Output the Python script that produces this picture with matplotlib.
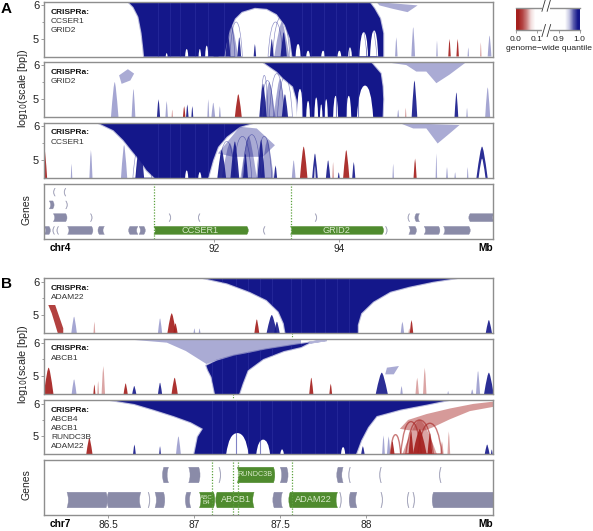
import matplotlib
matplotlib.use("Agg")
import matplotlib.pyplot as plt
import numpy as np
from matplotlib.patches import PathPatch
from matplotlib.path import Path

plt.rcParams["font.family"] = ["Liberation Sans", "DejaVu Sans"]

NAVY = "#14178a"
RED = "#a5201e"
GREY = "#8a8ba8"
GREEN = "#4f8b2e"
FRAME = "#8e8e8e"

W, H = 593, 531

# outlines of the solid blue regions, x in Mb, y in log10 scale
a1_solid_x = [90.63, 90.71, 90.79, 90.84, 90.87, 90.88, 92.16, 92.2, 92.25, 92.33, 92.44, 92.65, 92.84, 93.0, 93.13, 93.21, 93.25, 94.70, 94.70, 94.65, 94.56, 94.48]
a1_solid_y = [6.09, 5.94, 5.65, 5.17, 4.68, 4.48, 4.48, 4.87, 5.26, 5.6, 5.8, 5.92, 5.89, 5.73, 5.41, 5.02, 4.48, 4.48, 5.17, 5.6, 5.89, 6.09]
a2_solid_x = [92.78, 93.0, 93.1, 93.26, 93.32, 93.34, 94.69, 94.70, 94.69, 94.66, 94.59, 94.5]
a2_solid_y = [6.09, 5.81, 5.62, 5.37, 4.98, 4.48, 4.48, 5.0, 5.37, 5.75, 5.9, 6.09]
a3_solid_x = [90.15, 90.39, 90.55, 90.68, 90.81, 90.92, 91.05, 91.9, 91.98, 92.06, 92.2, 92.41, 92.62]
a3_solid_y = [6.09, 5.88, 5.59, 5.29, 5.0, 4.71, 4.48, 4.48, 5.0, 5.39, 5.69, 5.98, 6.09]
b1_solid_x = [87.05, 87.19, 87.32, 87.42, 87.49, 87.52, 87.53, 87.95, 87.95, 87.97, 88.04, 88.14, 88.25, 88.39, 88.53]
b1_solid_y = [6.11, 5.95, 5.7, 5.45, 5.1, 4.75, 4.46, 4.46, 4.7, 5.05, 5.4, 5.7, 5.85, 6.0, 6.11]
b2_solid_x = [87.07, 87.13, 87.23, 87.42, 87.58, 87.77, 87.67, 87.62, 87.52, 87.4, 87.31, 87.28, 87.26, 87.12, 87.1, 87.08]
b2_solid_y = [5.31, 5.46, 5.61, 5.8, 5.93, 6.08, 6.0, 5.87, 5.75, 5.51, 5.17, 4.77, 4.46, 4.46, 4.97, 5.17]
b3_solid_x = [86.51, 86.65, 86.76, 86.88, 86.98, 87.05, 87.02, 87.0, 87.94, 87.97, 88.01, 88.06, 88.2, 88.35, 88.48]
b3_solid_y = [6.11, 5.99, 5.82, 5.62, 5.43, 5.23, 4.98, 4.46, 4.46, 4.88, 5.28, 5.62, 5.82, 5.97, 6.11]

# faint vertical bands inside the solid regions
a_bands = [91.1, 91.3, 91.45, 91.7, 91.9, 92.15, 93.4, 93.55, 93.75, 93.95, 94.1, 94.3]
b_bands = [87.1, 87.16, 87.24, 87.31, 87.38, 87.45, 87.56, 87.62, 87.7, 87.76, 87.83, 87.9]

# paler speckled regions
a1_haze_x = [94.59, 95.25, 95.09, 94.85, 94.64]
a1_haze_y = [6.09, 5.99, 5.79, 5.89, 5.99]
a2_haze_x = [94.72, 96.03, 95.76, 95.55, 95.39, 95.23, 95.07]
a2_haze_y = [6.09, 6.09, 5.72, 5.47, 5.81, 5.81, 6.0]
a2_cloud_x = [90.48, 90.62, 90.72, 90.66, 90.52]
a2_cloud_y = [5.7, 5.88, 5.75, 5.55, 5.45]
a3_haze_x = [92.41, 92.68, 92.97, 92.78, 92.3, 92.06]
a3_haze_y = [5.98, 5.93, 5.44, 5.1, 5.1, 5.2]
a3_haze2_x = [94.96, 95.92, 95.76, 95.57, 95.39, 95.18]
a3_haze2_y = [6.09, 6.03, 5.78, 5.49, 5.93, 5.93]
b2_haze_x = [86.63, 86.84, 86.95, 87.07, 87.13, 87.32, 87.62, 87.62]
b2_haze_y = [6.09, 6.0, 5.75, 5.36, 5.48, 5.71, 5.9, 6.09]

# spikes: (centre Mb, half width Mb, top log10 scale)
a1_white = [(91.24, 0.015, 4.58), (91.56, 0.025, 4.7), (91.77, 0.02, 4.7), (91.88, 0.025, 4.8),
            (93.34, 0.04, 4.85), (93.5, 0.03, 4.65), (93.74, 0.03, 4.65), (94.0, 0.03, 4.65),
            (94.17, 0.03, 4.75), (94.39, 0.07, 5.2), (94.555, 0.065, 5.25)]
a1_ribs = [(92.25, 0.08, 5.45), (92.35, 0.1, 5.5), (92.98, 0.12, 5.5), (93.07, 0.14, 5.65),
           (94.3, 0.14, 5.55), (94.45, 0.15, 5.6), (94.56, 0.13, 5.5)]
a1_blue = [(92.03, 0.04, 4.9), (92.4, 0.03, 5.05), (92.65, 0.02, 4.85), (92.92, 0.03, 5.0),
           (93.11, 0.05, 5.2), (92.22, 0.04, 5.15), (94.47, 0.015, 5.4)]
a1_pale = [(92.28, 0.1, 5.4), (93.08, 0.12, 5.5), (94.91, 0.02, 5.05), (95.18, 0.03, 5.35),
           (95.56, 0.012, 4.95), (96.06, 0.012, 4.75), (96.40, 0.03, 5.1)]
a1_red = [(95.76, 0.02, 5.0), (95.89, 0.02, 5.0)]
a1_pink = [(96.26, 0.012, 4.9)]

a2_white = [(93.37, 0.05, 5.3), (93.5, 0.03, 4.95), (93.63, 0.03, 5.05), (93.71, 0.02, 4.85),
            (93.79, 0.025, 5.0), (93.94, 0.04, 5.1), (94.15, 0.04, 5.1), (94.41, 0.13, 5.4), (92.98, 0.04, 5.0)]
a2_ribs = [(92.85, 0.1, 5.55), (93.0, 0.12, 5.75), (93.13, 0.12, 5.65), (92.8, 0.06, 5.7)]
a2_blue = [(91.11, 0.025, 5.0), (91.57, 0.02, 4.85), (91.65, 0.015, 4.8),
           (93.13, 0.05, 5.15), (92.78, 0.06, 5.45), (95.2, 0.045, 5.55), (95.87, 0.03, 5.2)]
a2_pale = [(90.41, 0.06, 5.5), (90.71, 0.03, 5.3), (91.24, 0.02, 4.95), (91.905, 0.015, 5.0), (92.88, 0.1, 5.5),
           (93.05, 0.1, 5.6), (91.985, 0.03, 4.9), (92.09, 0.015, 4.8), (94.94, 0.015, 4.7), (96.04, 0.012, 4.75), (96.37, 0.04, 5.35)]
a2_red = [(92.385, 0.055, 5.15), (91.52, 0.02, 4.8)]
a2_pink = [(91.33, 0.012, 4.7), (95.06, 0.012, 4.75)]

a3_white = [(91.56, 0.025, 4.7), (91.77, 0.025, 4.65)]
a3_ribs = [(92.2, 0.13, 5.55), (92.45, 0.15, 5.7), (92.6, 0.15, 5.75), (92.8, 0.12, 5.7), (90.85, 0.15, 5.6), (90.95, 0.2, 5.75)]
a3_blue = [(90.81, 0.07, 5.55), (92.12, 0.07, 5.3), (92.33, 0.07, 5.55), (92.5, 0.04, 5.2), (92.75, 0.06, 5.6),
           (92.98, 0.025, 4.85), (93.61, 0.045, 5.2), (93.82, 0.035, 5.0), (93.99, 0.015, 4.65),
           (94.23, 0.025, 4.95), (96.28, 0.09, 5.4)]
a3_hollow = [(96.28, 0.055, 5.05), (93.61, 0.012, 4.85)]
a3_pale = [(92.25, 0.13, 5.5), (92.55, 0.13, 5.7), (92.85, 0.1, 5.6), (90.56, 0.05, 5.45), (90.03, 0.025, 5.3), (89.72, 0.012, 4.9), (93.27, 0.03, 5.0),
           (94.86, 0.012, 4.9), (95.55, 0.012, 5.2), (95.72, 0.015, 4.8), (95.85, 0.012, 4.65), (96.05, 0.012, 4.8)]
a3_red = [(89.29, 0.04, 5.3), (93.43, 0.06, 5.4), (94.11, 0.05, 5.3), (95.21, 0.025, 5.05)]
a3_pink = [(93.9, 0.015, 4.95)]

b1_blue = [(87.45, 0.03, 5.0), (87.48, 0.016, 4.8), (88.713, 0.018, 4.85)]
b1_pale = [(86.3, 0.016, 4.95), (86.8, 0.012, 4.9), (88.21, 0.01, 4.8), (87.0, 0.005, 4.6), (87.03, 0.005, 4.6)]
b1_red = [(86.868, 0.025, 5.05), (86.89, 0.012, 4.75), (87.363, 0.014, 4.87), (88.263, 0.01, 4.85)]
b1_pink = [(86.418, 0.005, 4.8), (88.25, 0.005, 4.6)]
b1_red_band_x = [86.15, 86.19, 86.237, 86.237, 86.205, 86.17]
b1_red_band_y = [5.3, 5.3, 4.6, 4.46, 4.46, 5.05]

b2_blue = [(86.65, 0.012, 4.7), (86.8, 0.012, 4.8), (88.09, 0.035, 5.1), (88.713, 0.028, 5.1)]
b2_pale = [(86.17, 0.005, 4.65), (86.3, 0.014, 4.9), (88.205, 0.007, 4.7), (88.476, 0.004, 4.55), (88.616, 0.007, 4.6), (88.65, 0.012, 5.15)]
b2_red = [(86.152, 0.028, 5.25), (86.418, 0.006, 4.75), (86.6, 0.012, 4.78), (86.885, 0.018, 4.95), (87.68, 0.012, 4.95), (87.793, 0.008, 4.77)]
b2_pink = [(88.296, 0.01, 4.95), (88.34, 0.01, 5.25), (86.47, 0.01, 5.3), (86.44, 0.005, 4.85)]
b2_cloud_x = [88.12, 88.19, 88.16, 88.11]
b2_cloud_y = [5.25, 5.3, 5.05, 5.05]

b3_white = [(87.25, 0.065, 5.1), (87.4, 0.04, 4.9), (87.51, 0.01, 4.6), (87.865, 0.012, 4.67)]
b3_blue = [(86.651, 0.008, 4.75), (86.8, 0.005, 4.7), (87.98, 0.01, 4.7), (88.703, 0.014, 4.75), (88.73, 0.005, 4.6)]
b3_pale = [(86.907, 0.014, 5.0), (87.03, 0.01, 4.7), (88.1, 0.008, 5.03), (88.13, 0.01, 5.0)]
b3_red = [(86.389, 0.018, 4.95), (88.311, 0.04, 5.22), (88.26, 0.014, 5.2), (88.37, 0.014, 5.1), (88.152, 0.012, 4.85)]
b3_red_ribs = [(88.31, 0.08, 5.5), (88.26, 0.06, 5.45), (88.37, 0.07, 5.4), (88.17, 0.03, 5.05)]
b3_pink = [(88.31, 0.1, 5.5), (88.44, 0.01, 4.85), (88.48, 0.008, 5.15)]
b3_cloud_x = [88.195, 88.243, 88.35, 88.486, 88.622, 88.738, 88.738, 88.602, 88.486, 88.389, 88.34, 88.253]
b3_cloud_y = [5.23, 5.5, 5.68, 5.85, 5.99, 6.06, 5.9, 5.77, 5.52, 5.28, 5.18, 5.18]

# genes: (start Mb, end Mb, row, strand)
a_genes = [(89.456, 89.456, 4, -1), (89.626, 89.626, 4, -1),
           (89.365, 89.42, 3, 1), (89.63, 89.63, 3, 1),
           (89.43, 89.626, 2, 1), (90.025, 90.025, 2, 1), (91.282, 91.282, 2, 1), (91.77, 91.77, 2, -1),
           (93.615, 93.615, 2, 1), (95.12, 95.12, 2, -1), (95.228, 95.28, 2, -1), (96.09, 96.47, 2, -1),
           (89.285, 89.36, 1, 1), (89.445, 89.445, 1, -1), (89.51, 89.51, 1, -1), (89.658, 90.04, 1, 1),
           (90.164, 90.244, 1, -1), (90.654, 90.78, 1, -1), (90.80, 90.877, 1, 1), (92.81, 92.81, 1, -1),
           (94.74, 94.74, 1, 1), (95.11, 95.21, 1, 1), (95.356, 95.585, 1, 1), (95.665, 96.07, 1, 1)]
a_green = [(91.037, 92.523, 1, 1, "CCSER1"), (93.22, 94.685, 1, 1, "GRID2")]
b_genes = [(86.822, 86.849, 2, -1), (86.967, 87.025, 2, 1), (87.144, 87.144, 2, 1), (87.50, 87.537, 2, 1),
           (87.836, 87.865, 2, -1), (87.906, 87.906, 2, -1), (88.086, 88.086, 2, -1), (88.434, 88.434, 2, -1),
           (86.259, 86.486, 1, 1), (86.5, 86.688, 1, -1), (86.732, 86.732, 1, 1), (86.771, 86.82, 1, 1),
           (86.955, 86.979, 1, -1), (87.464, 87.512, 1, -1), (87.846, 87.846, 1, 1), (87.908, 87.945, 1, -1),
           (88.086, 88.086, 1, 1), (88.247, 88.247, 1, -1), (88.272, 88.272, 1, 1), (88.391, 88.75, 1, -1)]
b_green = [(87.03, 87.111, 1, 1, "ABC\nB4"), (87.132, 87.347, 1, -1, "ABCB1"),
           (87.25, 87.46, 2, 1, "RUNDC3B"), (87.557, 87.832, 1, -1, "ADAM22")]

a_marks = [91.04, 93.22]
b_marks = [87.103, 87.227, 87.256, 87.567]

a_xlim = (89.28, 96.455)
b_xlim = (86.125, 88.737)
a_ylim = (4.48, 6.09)
b_ylim = (4.46, 6.11)

quant_ticks = [0, 1, 2.06, 3.06]
quant_labels = ["0.0", "0.1", "0.9", "1.0"]
quant_ramp = [0, 0.08, 0.22, 0.42, 0.5, 0.5, 0.5, 0.5, 0.5, 0.5, 0.5, 0.5, 0.62, 0.85, 1]


def axes_px(left, top, right, bottom):
    return fig.add_axes([left / W, 1 - bottom / H, (right - left) / W, (bottom - top) / H])


def frame(ax):
    for s in ax.spines.values():
        s.set_color(FRAME)
        s.set_linewidth(1.0)


def spike_path(ax, c, hw, top, k):
    base = ax.get_ylim()[0]
    verts = [(c - hw, base), (c - hw * k, top), (c, top), (c + hw * k, top), (c + hw, base), (c - hw, base)]
    codes = [Path.MOVETO, Path.CURVE3, Path.CURVE3, Path.CURVE3, Path.CURVE3, Path.CLOSEPOLY]
    return Path(verts, codes)


def spikes(ax, items, color, alpha=1.0, k=0.28):
    for c, hw, top in items:
        ax.add_patch(PathPatch(spike_path(ax, c, hw, top, k), fc=color, ec="none", alpha=alpha))


def ribs(ax, items, color, lw=0.45, alpha=0.5):
    for c, hw, top in items:
        ax.add_patch(PathPatch(spike_path(ax, c, hw, top, 0.7), fc="none", ec=color, lw=lw, alpha=alpha))


def scale_panel(top, bottom, xlim, ylim, lines, solid=None, bands=(), haze=(), white=(), arcs=(), blue=(), pale=(), red=(), pink=()):
    ax = axes_px(44, top, 493, bottom)
    ax.set_xlim(*xlim)
    ax.set_ylim(*ylim)
    frame(ax)
    for hx, hy in haze:
        ax.fill(hx, hy, color=NAVY, alpha=0.36, lw=0)
    if solid:
        # a soft rim, then the solid colour
        ax.fill(solid[0], solid[1], fc=NAVY, ec=NAVY, lw=1.6, alpha=0.3)
        body = ax.fill(solid[0], solid[1], color=NAVY, lw=0)[0]
        ax.vlines(bands, ylim[0], ylim[1], color="#2c30a0", lw=0.8, alpha=0.6).set_clip_path(body)
    spikes(ax, white, "white", k=0.75)
    ribs(ax, arcs, NAVY)
    spikes(ax, pale, NAVY, alpha=0.38)
    spikes(ax, blue, NAVY, alpha=0.9)
    spikes(ax, pink, RED, alpha=0.4)
    spikes(ax, red, RED, alpha=0.92)
    ax.set_xticks([])
    ax.set_yticks([5, 6])
    ax.set_yticks([5.5], minor=True)
    ax.tick_params(axis="y", which="both", length=2, width=0.6, color=FRAME, pad=1.5, labelsize=8, labelcolor="#222222")
    ax.tick_params(axis="y", which="minor", length=1.5)
    for i, name in enumerate(lines):
        ax.text(7 / 449, 1 - (10 + i * 9.2) / (bottom - top), name, transform=ax.transAxes, fontsize=6,
                fontweight="bold" if i == 0 else "normal", color="#111111" if i == 0 else "#333333", va="center", zorder=6)
    return ax


def gene(ax, start, end, row, strand, color, bend, height):
    thin = start == end
    if thin:
        start -= bend * 0.2
        end += bend * 0.2
    b = bend * 2 * strand
    lo, hi = row - height / 2, row + height / 2
    verts = [(start, lo), (start + b, row), (start, hi), (end, hi), (end + b, row), (end, lo), (start, lo)]
    codes = [Path.MOVETO, Path.CURVE3, Path.CURVE3, Path.LINETO, Path.CURVE3, Path.CURVE3, Path.CLOSEPOLY]
    ax.add_patch(PathPatch(Path(verts, codes), fc=color, ec=color, lw=0.3, alpha=0.7 if thin else 1))


def gene_panel(top, bottom, xlim, ylim, genes, green, marks, bend, height, ticks, ticklabels, chrom):
    ax = axes_px(44, top, 493, bottom)
    ax.set_xlim(*xlim)
    ax.set_ylim(*ylim)
    frame(ax)
    for g in genes:
        gene(ax, g[0], g[1], g[2], g[3], GREY, bend, height)
    for g in green:
        gene(ax, g[0], g[1], g[2], g[3], GREEN, bend, height)
        size = 4.5 if "\n" in g[4] else (5.2 if g[4] == "RUNDC3B" else 6.6)
        ax.text((g[0] + g[1]) / 2, g[2], g[4], color="#d7e8c8", fontsize=size, ha="center", va="center", linespacing=1.0, zorder=6)
    for m in marks:
        ax.axvline(m, color="#5aa03c", lw=0.9, ls=(0, (1, 1.3)), zorder=5)
    ax.set_yticks([])
    ax.set_xticks(ticks)
    ax.set_xticklabels(ticklabels)
    ax.tick_params(axis="x", length=2, width=0.6, color=FRAME, pad=1.5, labelsize=7.3, labelcolor="#222222")
    ax.text(0.012, -0.155, chrom, transform=ax.transAxes, fontsize=7.3, fontweight="bold", va="center")
    ax.text(1.0, -0.155, "Mb", transform=ax.transAxes, fontsize=7.3, fontweight="bold", va="center", ha="right")
    return ax


fig = plt.figure(figsize=(W / 100, H / 100), dpi=100)

scale_panel(2, 56.5, a_xlim, a_ylim, ["CRISPRa:", "CCSER1", "GRID2"], (a1_solid_x, a1_solid_y), a_bands,
            [(a1_haze_x, a1_haze_y)], a1_white, a1_ribs, a1_blue, a1_pale, a1_red, a1_pink)
scale_panel(62, 117, a_xlim, a_ylim, ["CRISPRa:", "GRID2"], (a2_solid_x, a2_solid_y), a_bands,
            [(a2_haze_x, a2_haze_y), (a2_cloud_x, a2_cloud_y)], a2_white, a2_ribs, a2_blue, a2_pale, a2_red, a2_pink)
ax_a3 = scale_panel(123, 178, a_xlim, a_ylim, ["CRISPRa:", "CCSER1"], (a3_solid_x, a3_solid_y), a_bands,
                    [(a3_haze_x, a3_haze_y), (a3_haze2_x, a3_haze2_y)], a3_white, a3_ribs, a3_blue, a3_pale, a3_red, a3_pink)
spikes(ax_a3, a3_hollow, "white")
gene_panel(184, 239, a_xlim, (0.325, 4.64), a_genes, a_green, a_marks, 0.022, 0.62, [92, 94], ["92", "94"], "chr4")

ax_b1 = scale_panel(278, 333, b_xlim, b_ylim, ["CRISPRa:", "ADAM22"], (b1_solid_x, b1_solid_y), b_bands,
                    (), (), (), b1_blue, b1_pale, b1_red, b1_pink)
ax_b1.fill(b1_red_band_x, b1_red_band_y, color=RED, alpha=0.85, lw=0)
ax_b2 = scale_panel(339, 394, b_xlim, b_ylim, ["CRISPRa:", "ABCB1"], (b2_solid_x, b2_solid_y), b_bands,
                    [(b2_haze_x, b2_haze_y), (b2_cloud_x, b2_cloud_y)], (), (), b2_blue, b2_pale, b2_red, b2_pink)
ax_b3 = scale_panel(400, 454, b_xlim, b_ylim, ["CRISPRa:", "ABCB4", "ABCB1", "RUNDC3B", "ADAM22"], (b3_solid_x, b3_solid_y), b_bands,
                    (), b3_white, (), b3_blue, b3_pale, b3_red, b3_pink)
ax_b3.fill(b3_cloud_x, b3_cloud_y, color=RED, alpha=0.45, lw=0)
ribs(ax_b3, b3_red_ribs, RED, lw=1.0, alpha=0.6)
gene_panel(460, 515, b_xlim, (0.4, 2.6), b_genes, b_green, b_marks, 0.008, 0.62,
           [86.5, 87, 87.5, 88], ["86.5", "87", "87.5", "88"], "chr7")

# little marks in the gaps between the panels
for ax, m in ((ax_b1, b_marks[3]), (ax_b2, b_marks[1])):
    lo = ax.get_ylim()[0]
    ax.plot([m, m], [lo, lo - 0.16], color="#5aa03c", lw=0.8, ls=(0, (1, 1.3)), clip_on=False)

fig.text(23 / W, 1 - 88 / H, r"log$_{10}$(scale [bp])", rotation=90, fontsize=7.8, ha="center", va="center", color="#222222")
fig.text(23 / W, 1 - 364 / H, r"log$_{10}$(scale [bp])", rotation=90, fontsize=7.8, ha="center", va="center", color="#222222")
fig.text(26 / W, 1 - 210 / H, "Genes", rotation=90, fontsize=7.5, ha="center", va="center", color="#222222")
fig.text(26 / W, 1 - 485 / H, "Genes", rotation=90, fontsize=7.5, ha="center", va="center", color="#222222")
fig.text(1 / W, 1 - 9 / H, "A", fontsize=11, fontweight="bold", va="center")
fig.text(1 / W, 1 - 284 / H, "B", fontsize=11, fontweight="bold", va="center")

# colour key
cax = axes_px(516, 8, 579.5, 30)
cmap = matplotlib.colors.LinearSegmentedColormap.from_list("q", [RED, "white", NAVY])
cax.imshow(np.array([quant_ramp]), cmap=cmap, vmin=0, vmax=1, aspect="auto", extent=(0, 3.06, 0, 1), interpolation="bilinear")
cax.set_xlim(0, 3.06)
cax.set_ylim(0, 1)
cax.set_yticks([])
cax.set_xticks(quant_ticks)
cax.set_xticklabels(quant_labels)
cax.tick_params(axis="x", length=2.5, width=0.6, color=FRAME, pad=1.5, labelsize=6, labelcolor="#222222")
for s in cax.spines.values():
    s.set_color(FRAME)
    s.set_linewidth(1.0)
cax.spines["left"].set_visible(False)
cax.spines["right"].set_visible(False)
cax.fill_between([1.26, 1.62], -0.1, 1.1, color="white", clip_on=False, zorder=4, lw=0)
for x0 in (1.25, 1.5):
    cax.plot([x0, x0 + 0.17], [-0.3, 0.25], color="#333333", lw=0.6, clip_on=False, zorder=5)
    cax.plot([x0, x0 + 0.17], [0.85, 1.4], color="#333333", lw=0.6, clip_on=False, zorder=5)
fig.text(549.5 / W, 1 - 48.5 / H, "genome\u2212wide quantile", fontsize=6.1, ha="center", va="center", color="#222222")

fig.savefig("out.png", dpi=100)
